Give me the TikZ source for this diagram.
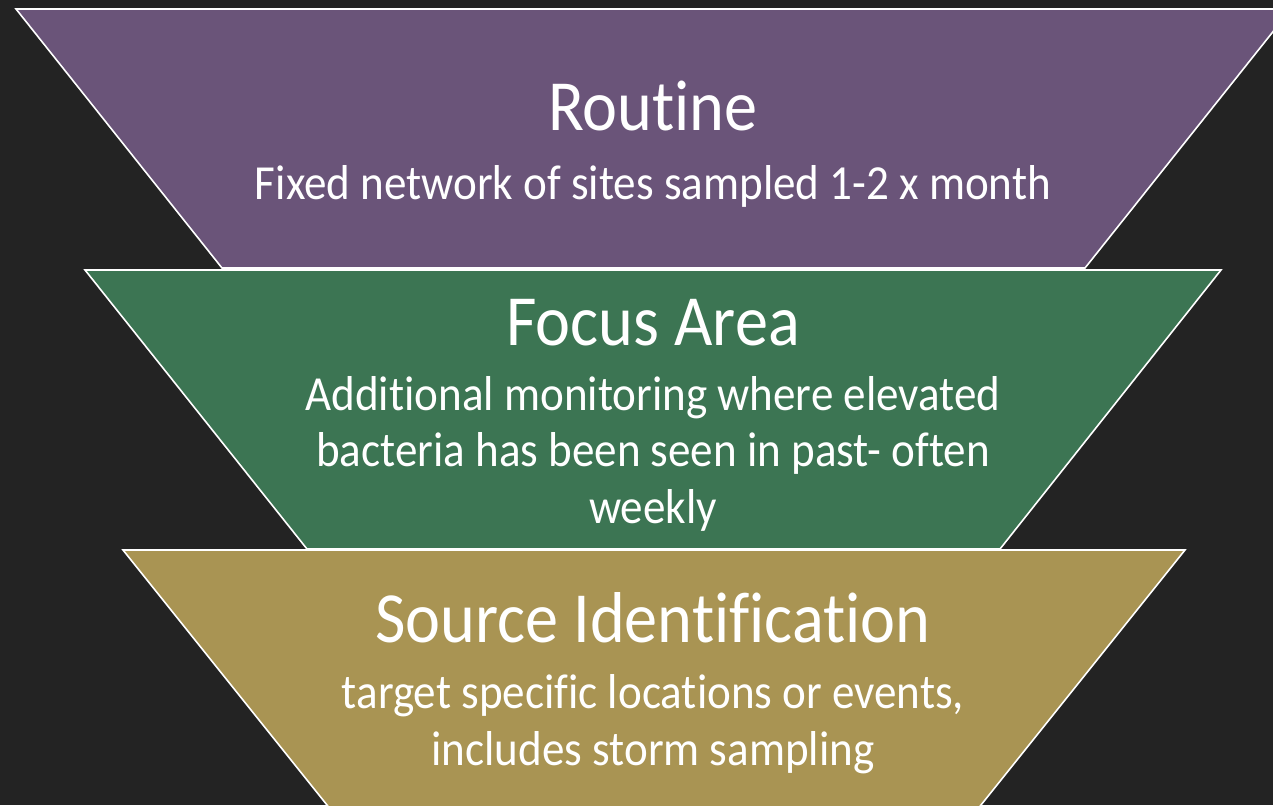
\documentclass[tikz,border=0pt]{standalone}
\usepackage{fontspec}
\setmainfont{Carlito}[FakeStretch=0.92, Ligatures=CommonOff]
\definecolor{slidebg}{HTML}{232323}
\definecolor{routinepurple}{HTML}{6A5479}
\definecolor{focusgreen}{HTML}{3C7553}
\definecolor{sourcegold}{HTML}{A99453}
\tikzset{
  layer/.style={draw=white, line width=1.6pt, line join=miter},
  title/.style={text=white, font=\fontsize{72}{80}\selectfont, inner sep=0pt, anchor=base},
  body/.style={text=white, font=\fontsize{49}{56.5}\selectfont, align=center, inner sep=0pt, anchor=base}
}
\begin{document}
\begin{tikzpicture}[x=1pt,y=-1pt]
    % Slide background
    \useasboundingbox (0,0) rectangle (1273,805);
    \fill[slidebg] (0,0) rectangle (1273,805);
    \clip (0,0) rectangle (1273,805);

    % Routine layer
    \filldraw[layer, fill=routinepurple] (16,9) -- (1291,9) -- (1085,268) -- (222,268) -- cycle;
    \node[title] (routine) at (653,131) {Routine};
    \node[body] (routinetxt) at (653,200) {Fixed network of sites sampled 1-2 x month};

    % Focus area layer (base = last line)
    \filldraw[layer, fill=focusgreen] (85,270) -- (1221,270) -- (1000,549) -- (307,549) -- cycle;
    \node[title] (focus) at (653,345) {Focus Area};
    \node[body] (focustxt) at (653,523) {Additional monitoring where elevated\\bacteria has been seen in past- often\\weekly};

    % Source identification layer
    \filldraw[layer, fill=sourcegold] (123,550) -- (1185,550) -- (961,830) -- (347,830) -- cycle;
    \node[title] (source) at (653,642) {Source Identification};
    \node[body] (sourcetxt) at (653,765) {target specific locations or events,\\includes storm sampling};
\end{tikzpicture}
\end{document}
